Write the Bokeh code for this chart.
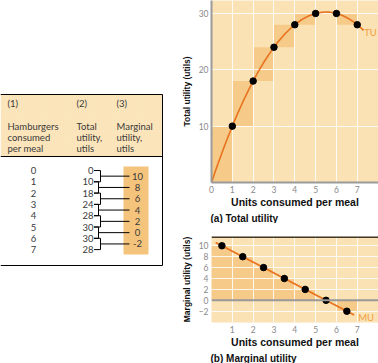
import numpy as np
from bokeh.plotting import figure
from bokeh.layouts import row, column
from bokeh.models import Range1d, FixedTicker, Span, Label, Title
from bokeh.core.properties import value
from bokeh.embed import file_html
from bokeh.resources import INLINE

# ---- data ----
units = [0, 1, 2, 3, 4, 5, 6, 7]
total_utility = [0, 10, 18, 24, 28, 30, 30, 28]
marginal_utility = [10, 8, 6, 4, 2, 0, -2]
mu_midpoints = [0.5, 1.5, 2.5, 3.5, 4.5, 5.5, 6.5]
x_ticks_top = [0, 1, 2, 3, 4, 5, 6, 7]
x_ticks = [1, 2, 3, 4, 5, 6, 7]
tu_ticks = [10, 20, 30]
mu_ticks = [-2, 0, 2, 4, 6, 8, 10]
header_nums = ["(1)", "(2)", "(3)"]
header_lines = [["Hamburgers", "consumed", "per meal"],
                ["Total", "utility,", "utils"],
                ["Marginal", "utility,", "utils"]]

BG = "#FBE2B4"
DARK = "#F6CB8A"
LINE = "#E8731E"
LABEL_ORANGE = "#F0A040"
TXT = "#3a3a3a"
TICK = "#8a8a8a"
FONT = "Lato"
BOLD = "Liberation Sans"

# ---- left: table ----
t = figure(width=178, height=363, x_range=Range1d(0, 178), y_range=Range1d(363, 0),
           output_backend="svg", toolbar_location=None,
           x_axis_location=None, y_axis_location=None,
           min_border=0, min_border_left=0, min_border_right=0,
           min_border_top=0, min_border_bottom=0)
t.grid.visible = False
t.outline_line_color = None
t.background_fill_color = "white"

t.quad(left=[0], right=[162], top=[94], bottom=[156], fill_color=BG, line_color=None,
       hatch_pattern="/", hatch_color="white", hatch_alpha=0.25, hatch_scale=3, hatch_weight=0.6)
t.segment(x0=[0, 0, 0, 162], y0=[94, 156, 265, 94], x1=[162, 162, 162, 162], y1=[94, 156, 265, 265],
          line_color="black", line_width=1)

col_x = [7, 76, 116]
for cx, num, lines in zip(col_x, header_nums, header_lines):
    t.text(x=[cx], y=[103], text=[num], text_font=value(FONT), text_font_size="9.5px",
           text_color=TXT, text_baseline="middle", text_align="left")
    t.text(x=[cx] * 3, y=[126, 137, 148], text=lines, text_font=value(FONT), text_font_size="9.5px",
           text_color=TXT, text_baseline="middle", text_align="left")

row_y = [170 + 11.3 * i for i in range(len(units))]
t.text(x=[33] * len(units), y=row_y, text=[str(u) for u in units], text_font=value(FONT),
       text_font_size="9.5px", text_color=TXT, text_baseline="middle", text_align="center")
t.text(x=[93] * len(units), y=row_y, text=[str(v) for v in total_utility], text_font=value(FONT),
       text_font_size="9.5px", text_color=TXT, text_baseline="middle", text_align="right")

# MU box
t.quad(left=[123], right=[148], top=[166], bottom=[254], fill_color="#F5C47C", line_color=None)
for i in range(len(marginal_utility)):
    vx = 100 if i % 2 == 0 else 98
    y0, y1 = row_y[i], row_y[i + 1]
    ym = (y0 + y1) / 2
    t.segment(x0=[93.5, 93.5, vx, vx], y0=[y0, y1, y0, ym], x1=[vx, vx, vx, 129], y1=[y0, y1, y1, ym],
              line_color="black", line_width=1)
mu_y = [(row_y[i] + row_y[i + 1]) / 2 for i in range(len(marginal_utility))]
t.text(x=[137] * len(mu_y), y=mu_y, text=[str(v) for v in marginal_utility], text_font=value(FONT),
       text_font_size="9.5px", text_color=TXT, text_baseline="middle", text_align="center")


def style(p, ylabel, xt, tick_vals):
    p.xaxis.ticker = FixedTicker(ticks=xt)
    p.yaxis.ticker = FixedTicker(ticks=tick_vals)
    for ax in (p.xaxis, p.yaxis):
        ax.major_tick_line_color = None
        ax.minor_tick_line_color = None
        ax.major_tick_out = 0
        ax.major_tick_in = 0
        ax.minor_tick_out = 0
        ax.minor_tick_in = 0
        ax.major_label_text_font = FONT
        ax.major_label_text_font_size = "8.5px"
        ax.major_label_text_color = TICK
        ax.axis_label_text_font = BOLD
        ax.axis_label_text_font_style = "bold"
        ax.axis_label_text_color = "#111111"
        ax.axis_label_text_line_height = 1.0
        ax.major_label_text_line_height = 1.0
    p.xaxis.axis_label = "Units consumed per meal"
    p.xaxis.axis_label_text_font_size = "10.5px"
    p.xaxis.major_label_standoff = 3
    p.xaxis.axis_label_standoff = 0
    p.yaxis.axis_label = ylabel
    p.yaxis.axis_label_text_font_size = "8.5px"
    p.yaxis.major_label_standoff = 3
    p.yaxis.axis_label_standoff = 4
    p.background_fill_color = BG
    p.border_fill_color = "white"
    p.outline_line_color = None
    p.xgrid.ticker = FixedTicker(ticks=x_ticks)
    p.ygrid.ticker = FixedTicker(ticks=tick_vals)
    p.grid.grid_line_color = "white"
    p.grid.grid_line_alpha = 0.85
    p.grid.grid_line_width = 1


# ---- top right: total utility ----
p1 = figure(width=200, height=223, x_range=Range1d(0, 8.02), y_range=Range1d(0, 32.3),
            output_backend="svg", toolbar_location=None,
            min_border_left=30, min_border_right=0, min_border_top=0, min_border_bottom=37)
style(p1, "Total utility (utils)", x_ticks_top, tu_ticks)
p1.xaxis.axis_line_color = "#9a9a9a"
p1.yaxis.axis_line_color = "#9a9a9a"
p1.xaxis.axis_line_width = 2
p1.yaxis.axis_line_width = 2

p1.quad(left=units[:-1], right=units[1:], bottom=total_utility[:-1], top=total_utility[1:],
        fill_color=DARK, line_color=None, level="underlay")
coef = np.polyfit(units, total_utility, 2)
xc = np.linspace(units[0], 7.3, 120)
p1.line(xc, np.polyval(coef, xc), line_color=LINE, line_width=1.6)
p1.scatter(units[1:], total_utility[1:], size=6.5, color="black")
p1.add_layout(Label(x=7.33, y=26.6, text="TU", text_font=FONT, text_font_size="9.5px",
                    text_color=LABEL_ORANGE, text_baseline="middle"))
p1.add_layout(Title(text="(a) Total utility", align="left", text_font=BOLD, text_font_size="10px",
                    text_font_style="bold", text_color="#111111", offset=-1, standoff=0), "below")

# ---- bottom right: marginal utility ----
p2 = figure(width=200, height=140, x_range=Range1d(0, 8.02), y_range=Range1d(-4.07, 11.7),
            output_backend="svg", toolbar_location=None,
            min_border_left=30, min_border_right=0, min_border_top=13, min_border_bottom=35)
style(p2, "Marginal utility (utils)", x_ticks, mu_ticks)
p2.xaxis.axis_line_color = None
p2.yaxis.axis_line_color = None

p2.vbar(x=mu_midpoints, width=1, top=marginal_utility, bottom=0, fill_color=DARK, line_color=None,
        level="underlay")
p2.add_layout(Span(location=0, dimension="width", line_color="#999999", line_width=2))
p2.add_layout(Span(location=11.62, dimension="width", line_color="black", line_width=1.5))
mcoef = np.polyfit(mu_midpoints, marginal_utility, 1)
xm = np.array([0.2, 6.85])
p2.line(xm, np.polyval(mcoef, xm), line_color=LINE, line_width=1.8)
p2.scatter(mu_midpoints, marginal_utility, size=6.5, color="black")
p2.add_layout(Label(x=7.05, y=-3.1, text="MU", text_font=FONT, text_font_size="9.5px",
                    text_color=LABEL_ORANGE, text_baseline="middle"))
p2.add_layout(Title(text="(b) Marginal utility", align="left", text_font=BOLD, text_font_size="10px",
                    text_font_style="bold", text_color="#111111", offset=-1, standoff=0), "below")

layout = row(t, column(p1, p2, spacing=0), spacing=0)
open("out.html", "w").write(file_html(layout, INLINE))
